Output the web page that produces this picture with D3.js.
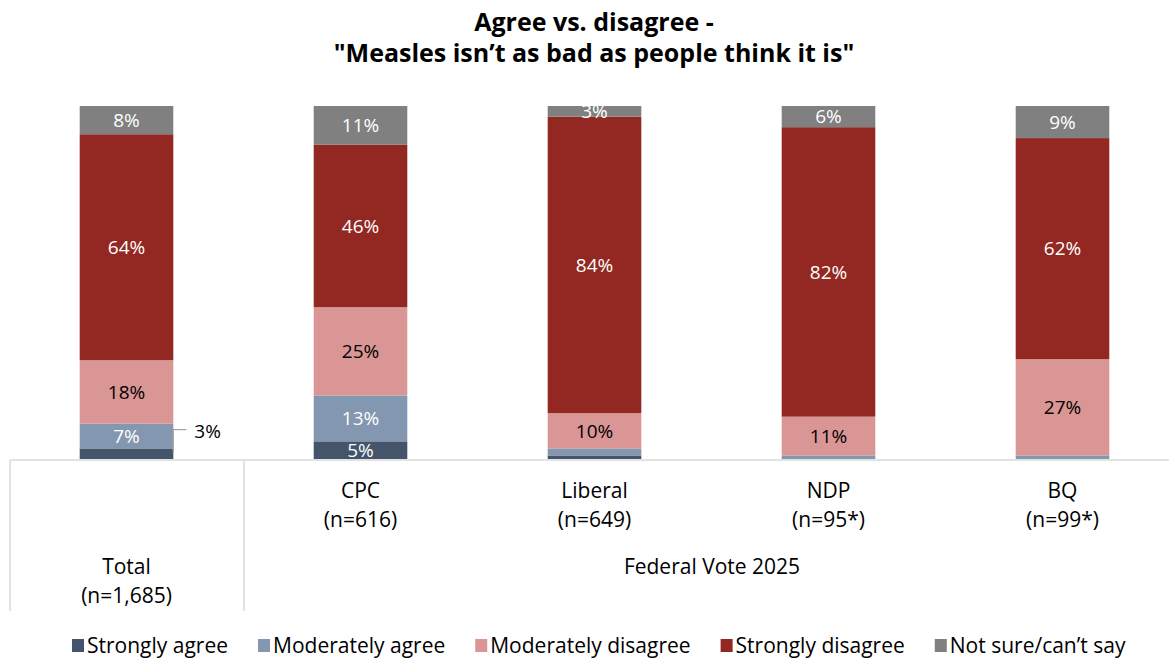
<!DOCTYPE html>
<html>
<head>
<meta charset="utf-8">
<script src="https://cdn.jsdelivr.net/npm/d3@7/dist/d3.min.js"></script>
<style>
  html, body { margin: 0; padding: 0; background: #fff; }
  svg { display: block; font-family: "Open Sans", Lato, sans-serif; }
</style>
</head>
<body>
<svg id="chart" width="1169" height="658"></svg>
<script>
// Survey groups and sample sizes
const groups = ["Total", "CPC", "Liberal", "NDP", "BQ"];
const sampleLabels = ["(n=1,685)", "(n=616)", "(n=649)", "(n=95*)", "(n=99*)"];

// Response categories (stack order bottom to top)
const responses = ["Strongly agree", "Moderately agree", "Moderately disagree", "Strongly disagree", "Not sure/can\u2019t say"];
const colors = ["#44546a", "#8497b0", "#da9694", "#922821", "#808080"];
const labelColors = ["#fff", "#fff", "#000", "#fff", "#fff"];

// Percent per group, one array per response
const stronglyAgree      = [3, 5, 1, 0, 0];
const moderatelyAgree    = [7, 13, 2, 1, 1];
const moderatelyDisagree = [18, 25, 10, 11, 27];
const stronglyDisagree   = [64, 46, 84, 82, 62];
const notSure            = [8, 11, 3, 6, 9];

const series = [stronglyAgree, moderatelyAgree, moderatelyDisagree, stronglyDisagree, notSure];

const rows = groups.map((g, i) => {
  const r = { group: g };
  responses.forEach((k, j) => { r[k] = series[j][i]; });
  return r;
});

const svg = d3.select("#chart");
const baseY = 459, topY = 106;

const x = d3.scaleBand().domain(groups).range([9.5, 1179.5]).paddingInner(0.6).paddingOuter(0.3);
const y = d3.scaleLinear().domain([0, 1]).range([baseY, topY]);

// 100% stacked bars: each group normalised to its full height
const stacked = d3.stack().keys(responses).offset(d3.stackOffsetExpand)(rows);
const val = (i, d) => d.data[responses[i]];

// Title
const title = svg.append("text").attr("text-anchor", "middle").attr("font-weight", 700)
  .attr("font-size", 25).attr("fill", "#000");
title.append("tspan").attr("x", 594).attr("y", 31).text("Agree vs. disagree -");
title.append("tspan").attr("x", 594).attr("y", 62).text("\"Measles isn\u2019t as bad as people think it is\"");

// Bars
const layer = svg.append("g").selectAll("g").data(stacked).join("g")
  .attr("fill", (d, i) => colors[i]);

layer.selectAll("rect").data(d => d).join("rect")
  .attr("x", d => x(d.data.group))
  .attr("width", x.bandwidth())
  .attr("y", d => y(d[1]))
  .attr("height", d => y(d[0]) - y(d[1]));

// Segment value labels
stacked.forEach((s, i) => {
  svg.append("g").selectAll("text").data(s).join("text")
    .filter(d => val(i, d) >= 3 && !(i === 0 && d.data.group === "Total"))
    .attr("x", d => x(d.data.group) + x.bandwidth() / 2)
    .attr("y", d => (y(d[0]) + y(d[1])) / 2)
    .attr("dy", "0.36em")
    .attr("text-anchor", "middle")
    .attr("font-size", 19)
    .attr("fill", labelColors[i])
    .text(d => val(i, d) + "%");
});

// Callout for the small "Strongly agree" segment of Total
const tSeg = stacked[0][0];
const tRight = x("Total") + x.bandwidth();
const tMid = (y(tSeg[0]) + y(tSeg[1])) / 2;
svg.append("path")
  .attr("d", `M${tRight},${tMid} V${tMid - 24} H${tRight + 13}`)
  .attr("fill", "none").attr("stroke", "#a6a6a6").attr("stroke-width", 1.2);
svg.append("text")
  .attr("x", tRight + 21).attr("y", tMid - 23).attr("dy", "0.36em")
  .attr("font-size", 19).attr("fill", "#000")
  .text(val(0, tSeg) + "%");

// Category axis frame
const grid = svg.append("g").attr("stroke", "#d9d9d9").attr("stroke-width", 1.5);
grid.append("line").attr("x1", 10).attr("x2", 1169).attr("y1", baseY + 1).attr("y2", baseY + 1);
grid.append("line").attr("x1", 10).attr("x2", 10).attr("y1", baseY + 1).attr("y2", 611);
grid.append("line").attr("x1", 244).attr("x2", 244).attr("y1", baseY + 1).attr("y2", 611);

// Group labels
const catG = svg.append("g").attr("font-size", 21).attr("fill", "#000").attr("text-anchor", "middle");
groups.forEach((g, i) => {
  const cx = x(g) + x.bandwidth() / 2;
  const y0 = g === "Total" ? 574 : 498;
  catG.append("text").attr("x", cx).attr("y", y0).text(g);
  catG.append("text").attr("x", cx).attr("y", y0 + 29).text(sampleLabels[i]);
});
catG.append("text").attr("x", 712).attr("y", 574).text("Federal Vote 2025");

// Legend
const legend = svg.append("g").attr("font-size", 21).attr("fill", "#000");
let lx = 72;
responses.forEach((r, i) => {
  legend.append("rect").attr("x", lx).attr("y", 639).attr("width", 12).attr("height", 13).attr("fill", colors[i]);
  const t = legend.append("text").attr("x", lx + 15).attr("y", 653).text(r);
  lx += 15 + t.node().getComputedTextLength() + 30;
});
</script>
</body>
</html>
